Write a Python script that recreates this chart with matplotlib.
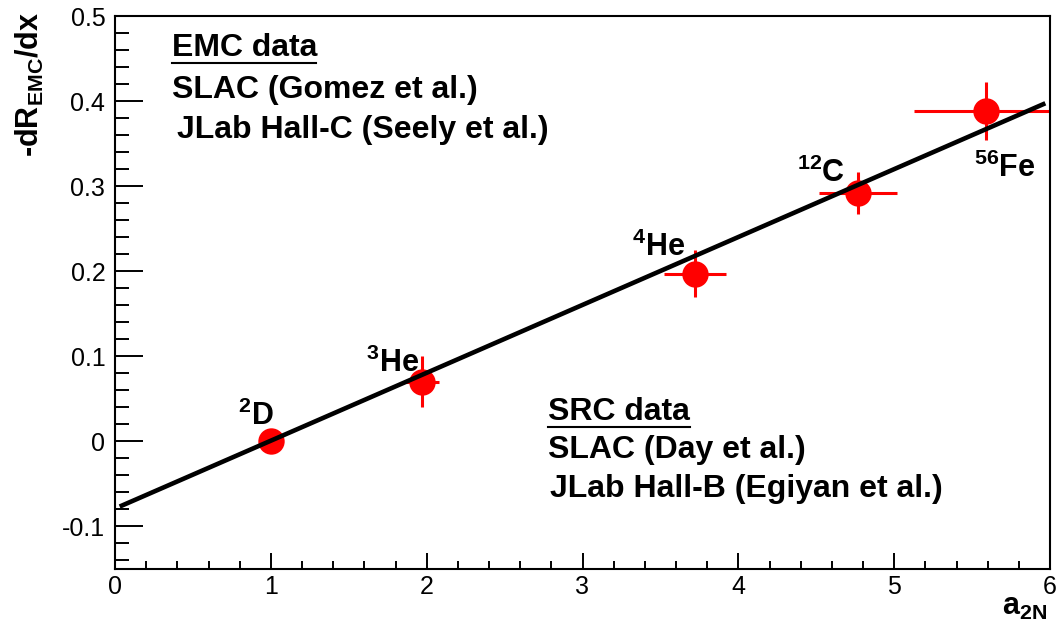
import matplotlib
matplotlib.use("Agg")
import matplotlib.pyplot as plt
from matplotlib.ticker import MultipleLocator, FuncFormatter
from matplotlib.lines import Line2D
import numpy as np

plt.rcParams['font.family'] = ['Liberation Sans', 'DejaVu Sans']
plt.rcParams['mathtext.default'] = 'regular'

# ---- data ----
mass_numbers = ['2', '3', '4', '12', '56']
symbols = ['D', 'He', 'He', 'C', 'Fe']
a2n = [1.00, 1.97, 3.72, 4.77, 5.59]
a2n_err = [0.01, 0.11, 0.20, 0.25, 0.465]
emc_slope = [0.000, 0.070, 0.197, 0.292, 0.388]
emc_slope_err = [0.005, 0.030, 0.0275, 0.025, 0.034]
fit_slope = 0.0798
fit_intercept = -0.079
fit_range = [0.03, 5.97]

emc_lines = ['EMC data', 'SLAC (Gomez et al.)', 'JLab Hall-C (Seely et al.)']
src_lines = ['SRC data', 'SLAC (Day et al.)', 'JLab Hall-B (Egiyan et al.)']

# label offsets (points) relative to marker centre (left, baseline)
label_offsets = [(-24, 12), (-40, 7), (-45, 13), (-44, 8), (-9, -47)]

W, H = 1060, 634
fig = plt.figure(figsize=(W / 100, H / 100), dpi=100)
ax = fig.add_axes([115 / W, 1 - 569 / H, 935 / W, 553 / H])

red = '#ff0000'
fx = np.linspace(fit_range[0], fit_range[1], 2)
ax.plot(fx, fit_slope * fx + fit_intercept, color='black', lw=3.3, zorder=3,
        solid_capstyle='butt')
ax.errorbar(a2n, emc_slope, xerr=a2n_err, yerr=emc_slope_err, fmt='o',
            color=red, ecolor=red, elinewidth=2.2, capsize=0,
            markersize=19, markeredgewidth=0, zorder=2)

for x, y, m, s, off in zip(a2n, emc_slope, mass_numbers, symbols, label_offsets):
    ax.annotate(r'$^{%s}$%s' % (m, s), xy=(x, y), xytext=off,
                textcoords='offset points', ha='left', va='baseline',
                fontsize=22, fontweight='bold', zorder=4)

ax.set_xlim(0, 6)
ax.set_ylim(-0.15, 0.5)
ax.xaxis.set_major_locator(MultipleLocator(1))
ax.xaxis.set_minor_locator(MultipleLocator(0.2))
ax.yaxis.set_major_locator(MultipleLocator(0.1))
ax.yaxis.set_minor_locator(MultipleLocator(0.02))
fmt = FuncFormatter(lambda v, p: ('%g' % round(v, 3)).replace('\u2212', '-'))
ax.xaxis.set_major_formatter(fmt)
ax.yaxis.set_major_formatter(fmt)

ax.tick_params(axis='both', which='both', direction='in', top=False,
               right=False, width=1.4, colors='black', labelsize=18)
ax.tick_params(axis='y', which='major', length=20, pad=7)
ax.tick_params(axis='y', which='minor', length=10)
ax.tick_params(axis='x', which='major', length=11.5, pad=4)
ax.tick_params(axis='x', which='minor', length=5.8)
for sp in ax.spines.values():
    sp.set_linewidth(1.5)

# axis titles (ROOT style, at the axis ends)
fig.text(30 / W, 1 - 12 / H, r'-dR$_{EMC}$/dx', rotation=90, ha='center',
         va='top', fontsize=22, fontweight='bold')
fig.text(1047 / W, 1 - 615 / H, r'a$_{2N}$', ha='right', va='baseline',
         fontsize=22, fontweight='bold')

# text blocks
def block(lines, x0, baselines, xs_extra, ul_y, ul_x1):
    for t, b, dx in zip(lines, baselines, xs_extra):
        fig.text((x0 + dx) / W, 1 - b / H, t, ha='left', va='baseline',
                 fontsize=23, fontweight='bold')
    fig.add_artist(Line2D([x0 / W, ul_x1 / W], [1 - ul_y / H, 1 - ul_y / H],
                          color='black', lw=1.5))

block(emc_lines, 172, [56, 98, 138], [0, 0, 5], 63, 316)
block(src_lines, 548, [420, 458, 497], [0, 0, 2], 427, 690)

fig.savefig('out.png', dpi=100)
